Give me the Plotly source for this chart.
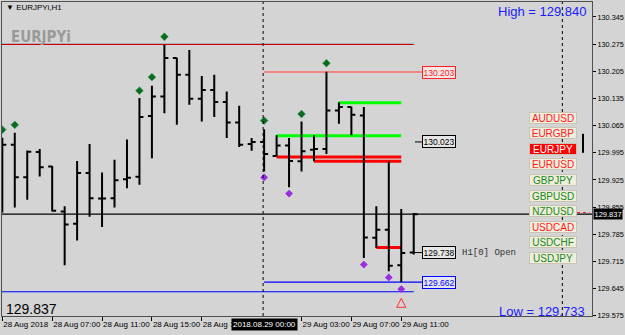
import plotly.graph_objects as go

# ---------------- data ----------------
BAR_INDEX = list(range(34))
OPEN = [130.023, 130.016, 129.932, 129.997, 129.960, 129.844, 129.812, 129.943, 129.877, 129.878,
        129.927, 129.933, 130.090, 130.140, 130.239, 130.196, 130.134, 130.157, 130.126, 130.073,
        130.018, 130.023, 129.987, 130.014, 129.973, 130.003, 130.005, 130.104, 130.113, 130.091,
        129.776, 129.797, 129.705, 129.738]
HIGH = [130.034, 130.047, 130.001, 130.005, 129.961, 129.857, 129.974, 130.018, 129.944, 129.977,
        130.029, 130.136, 130.168, 130.274, 130.240, 130.260, 130.193, 130.196, 130.153, 130.116,
        130.033, 130.056, 130.040, 130.033, 130.076, 130.040, 130.204, 130.125, 130.114, 130.113,
        129.857, 129.973, 129.850, 129.840]
LOW = [129.841, 129.854, 129.874, 129.934, 129.844, 129.705, 129.769, 129.830, 129.804, 129.854,
       129.904, 129.913, 129.981, 130.097, 130.067, 130.119, 130.076, 130.087, 130.033, 130.010,
       130.000, 129.947, 129.986, 129.906, 129.947, 129.973, 129.992, 130.070, 130.040, 129.724,
       129.750, 129.690, 129.662, 129.733]
CLOSE = [130.016, 129.932, 129.998, 129.958, 129.846, 129.810, 129.943, 129.878, 129.877, 129.924,
         129.931, 130.087, 130.140, 130.239, 130.196, 130.134, 130.157, 130.126, 130.073, 130.016,
         130.023, 129.992, 130.014, 129.974, 129.999, 130.005, 130.104, 130.113, 130.093, 129.777,
         129.797, 129.704, 129.737, 129.837]

UP_FRACTAL_X = [0, 1, 11, 12, 13, 21, 24, 26]
UP_FRACTAL_Y = [130.0545, 130.067, 130.155, 130.190, 130.294, 130.078, 130.095, 130.226]
DN_FRACTAL_X = [21, 23, 29, 31, 32]
DN_FRACTAL_Y = [129.9315, 129.890, 129.707, 129.674, 129.644]
ARROW_X = [32]
ARROW_Y = [129.620]

# horizontal levels: price, start bar, end bar, colour, width
LEVEL_PRICE = [130.277, 130.2745, 130.203, 130.124, 130.039, 129.984, 129.973, 129.751, 129.662, 129.637, 129.837]
LEVEL_START = [-0.5, -0.5, 21, 27, 22, 22, 25, 30, 21, -0.5, -0.5]
LEVEL_END = [33, 33, 33.7, 32, 32, 32, 32, 32, 33.7, 33, 48]
LEVEL_COLOR = ["#a8f0f0", "#d00000", "#ff6a6a", "#00ff00", "#00ff00", "#ff0000", "#ff0000", "#ff0000",
               "#0000ff", "#0000ff", "#000000"]
LEVEL_WIDTH = [1, 1.2, 1.5, 3, 3, 3, 3, 3, 1.2, 1.2, 1.2]

PRICE_LABELS = [130.203, 130.023, 129.738, 129.662]
PRICE_LABEL_COLORS = ["#ff2020", "#000000", "#000000", "#0000ff"]
PRICE_LABEL_BG = ["#f4e6e6", "#e6e6e6", "#e6e6e6", "#e6e6ee"]
LABEL_X = 33.7
CONNECT_PRICE = [130.023, 129.738]
CONNECT_START = [33.1, 33.0]

SEPARATORS = [21, 45]

XTICK_VALS = [0, 4, 8, 12, 16, 24, 28, 32]
XTICK_TEXT = ["28 Aug 2018", "28 Aug 07:00", "28 Aug 11:00", "28 Aug 15:00", "28 Aug 19:00",
              "29 Aug 03:00", "29 Aug 07:00", "29 Aug 11:00"]
YTICK_VALS = [129.575, 129.645, 129.715, 129.785, 129.855, 129.925, 129.995, 130.065,
              130.135, 130.205, 130.275, 130.345]
YTICK_TEXT = ["129.575", "129.645", "129.715", "129.785", "129.855", "129.925", "129.995", "130.065",
              "130.135", "130.205", "130.275", "130.345"]

CURRENT_PRICE = 129.837
DAY_HIGH = "129.840"
DAY_LOW = "129.733"
SYMBOLS = ["AUDUSD", "EURGBP", "EURJPY", "EURUSD", "GBPJPY", "GBPUSD", "NZDUSD", "USDCAD", "USDCHF", "USDJPY"]
SYMBOL_COLORS = ["#ff1a1a", "#ff1a1a", "#ffffff", "#ff1a1a", "#178a17", "#178a17", "#178a17", "#ff1a1a",
                 "#178a17", "#178a17"]
SYMBOL_BG = ["#efedde", "#efedde", "#ff0000", "#efedde", "#efedde", "#efedde", "#efedde", "#efedde",
             "#efedde", "#efedde"]
SIDE_MARK_X = 46.58
SIDE_MARK_Y = [130.044, 129.995]

# ---------------- layout geometry ----------------
W, H = 625, 335
PL, PR, PT, PB = 2, 592, 2, 316
X_RANGE = [-0.025, 47.3]
Y_RANGE = [129.5745, 130.3836]
BG = "#d4d4d4"
FONT = "Liberation Sans, Arial, sans-serif"


def px(x):
    return (x - PL) / (PR - PL)


def py(y):
    return (PB - y) / (PB - PT)


fig = go.Figure()

fig.add_trace(go.Ohlc(
    x=BAR_INDEX, open=OPEN, high=HIGH, low=LOW, close=CLOSE,
    increasing=dict(line=dict(color="black", width=2)),
    decreasing=dict(line=dict(color="black", width=2)),
    tickwidth=0.32, hoverinfo="skip", showlegend=False,
))

fig.add_trace(go.Scatter(x=UP_FRACTAL_X, y=UP_FRACTAL_Y, mode="markers",
                         marker=dict(symbol="diamond", size=6, color="#0b6b1a",
                                     line=dict(width=0.6, color="#3a9a6a")),
                         hoverinfo="skip", showlegend=False))
fig.add_trace(go.Scatter(x=DN_FRACTAL_X, y=DN_FRACTAL_Y, mode="markers",
                         marker=dict(symbol="diamond", size=6, color="#9a2ee0"),
                         hoverinfo="skip", showlegend=False))
fig.add_trace(go.Scatter(x=ARROW_X, y=ARROW_Y, mode="markers",
                         marker=dict(symbol="arrow-up-open", size=9, color="#ff3030",
                                     line=dict(width=1, color="#ff3030")),
                         hoverinfo="skip", showlegend=False))

shapes = []
for p, s, e, c, w in zip(LEVEL_PRICE, LEVEL_START, LEVEL_END, LEVEL_COLOR, LEVEL_WIDTH):
    shapes.append(dict(type="line", xref="x", yref="y", x0=s, x1=e, y0=p, y1=p,
                       line=dict(color=c, width=w), layer="below"))
for p, s in zip(CONNECT_PRICE, CONNECT_START):
    shapes.append(dict(type="line", xref="x", yref="y", x0=s, x1=LABEL_X, y0=p, y1=p,
                       line=dict(color="black", width=1)))
for sx in SEPARATORS:
    shapes.append(dict(type="line", xref="x", yref="paper", x0=sx - 0.08, x1=sx - 0.08, y0=0, y1=1,
                       line=dict(color="black", width=1, dash="dot")))
shapes.append(dict(type="line", xref="x", yref="y", x0=SIDE_MARK_X, x1=SIDE_MARK_X,
                   y0=SIDE_MARK_Y[0], y1=SIDE_MARK_Y[1], line=dict(color="black", width=2)))
shapes.append(dict(type="line", xref="x", yref="y", x0=46.1, x1=47.1, y0=CURRENT_PRICE + 0.004,
                   y1=CURRENT_PRICE + 0.004, line=dict(color="#ff2020", width=1, dash="dot")))

ann = []
for p, c, bg in zip(PRICE_LABELS, PRICE_LABEL_COLORS, PRICE_LABEL_BG):
    ann.append(dict(x=LABEL_X, y=p, xref="x", yref="y", xanchor="left", yanchor="middle",
                    text=f"{p:.3f}", showarrow=False, font=dict(family=FONT, size=8.5, color=c),
                    bordercolor=c, borderwidth=1, borderpad=0.5, bgcolor=bg))
ann.append(dict(x=LABEL_X + 3.0, y=PRICE_LABELS[2], xref="x", yref="y",
                xanchor="left", yanchor="middle", text="H1[0] Open", showarrow=False,
                font=dict(family="Liberation Mono, Courier New, monospace", size=9, color="#333333")))
# symbol buttons
for i, (s, c, bg) in enumerate(zip(SYMBOLS, SYMBOL_COLORS, SYMBOL_BG)):
    yc = 117.8 + i * 15.55
    ann.append(dict(x=px(552.5), y=py(yc), xref="paper", yref="paper", xanchor="center", yanchor="middle",
                    text=s, showarrow=False, font=dict(family=FONT, size=10, color=c),
                    bgcolor=bg, bordercolor="#c9c5b2", borderwidth=1, borderpad=0,
                    width=46, height=10))
# text overlays
ann.append(dict(x=px(4), y=py(8), xref="paper", yref="paper", xanchor="left", yanchor="middle",
                text="▼ EURJPYi,H1", showarrow=False, font=dict(family=FONT, size=8, color="black")))
ann.append(dict(x=px(9), y=py(37), xref="paper", yref="paper", xanchor="left", yanchor="middle",
                text="<b>EURJPYi</b>", showarrow=False,
                font=dict(family="Liberation Sans Narrow, Arial Narrow, DejaVu Sans Condensed, sans-serif",
                          size=15, color="#9a9a9a")))
ann.append(dict(x=px(589), y=py(12), xref="paper", yref="paper", xanchor="right", yanchor="middle",
                text=f"High = {DAY_HIGH}", showarrow=False, font=dict(family=FONT, size=13, color="#1a1aff")))
ann.append(dict(x=px(587), y=py(311), xref="paper", yref="paper", xanchor="right", yanchor="middle",
                text=f"Low = {DAY_LOW}", showarrow=False, font=dict(family=FONT, size=13, color="#1a1aff")))
ann.append(dict(x=px(4), y=py(309), xref="paper", yref="paper", xanchor="left", yanchor="middle",
                text=f"{CURRENT_PRICE:.3f}", showarrow=False, font=dict(family=FONT, size=14, color="black")))
# axis boxes
ann.append(dict(x=1, y=CURRENT_PRICE, xref="paper", yref="y", xanchor="left", yanchor="middle", xshift=1,
                text=f"{CURRENT_PRICE:.3f}", showarrow=False, font=dict(family=FONT, size=7.5, color="white"),
                bgcolor="black", borderpad=0.5))
ann.append(dict(x=SEPARATORS[0], y=0, xref="x", yref="paper", xanchor="center", yanchor="top", yshift=-2,
                text="2018.08.29 00:00", showarrow=False, font=dict(family=FONT, size=8, color="white"),
                bgcolor="black", borderpad=1))

fig.update_layout(
    width=W, height=H,
    margin=dict(l=PL, r=W - PR, t=PT, b=H - PB, pad=0),
    paper_bgcolor=BG, plot_bgcolor=BG,
    shapes=shapes, annotations=ann, showlegend=False,
    xaxis=dict(range=X_RANGE, tickvals=XTICK_VALS, ticktext=XTICK_TEXT, ticks="outside", ticklen=4,
               tickcolor="black", ticklabelposition="outside right", tickangle=0, automargin=False,
               tickfont=dict(family=FONT, size=8, color="black"), showgrid=False, zeroline=False,
               showline=True, linecolor="#505050", linewidth=1, mirror=True,
               rangeslider=dict(visible=False), fixedrange=True),
    yaxis=dict(range=Y_RANGE, side="right", tickvals=YTICK_VALS, ticktext=YTICK_TEXT, ticks="outside",
               ticklen=3, tickcolor="black", tickfont=dict(family=FONT, size=7.3, color="black"),
               automargin=False,
               showgrid=False, zeroline=False, showline=True, linecolor="#505050", linewidth=1,
               mirror=True, fixedrange=True),
)

fig.write_html("out.html")
